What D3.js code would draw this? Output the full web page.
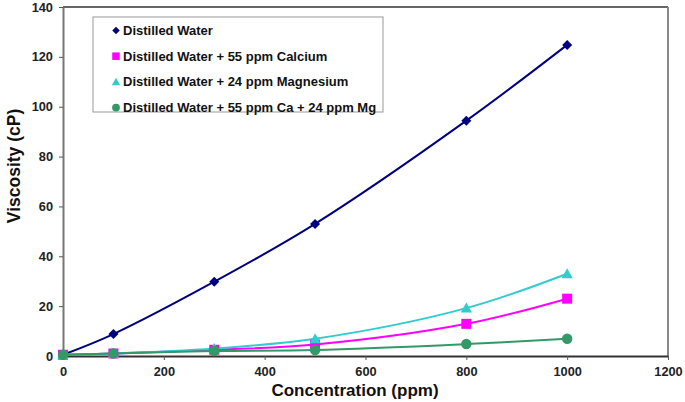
<!DOCTYPE html>
<html><head><meta charset="utf-8">
<script src="https://cdn.jsdelivr.net/npm/d3@7"></script>
<style>body{margin:0;background:#fff}svg{display:block}text{font-family:"Liberation Sans",Arial,sans-serif;font-weight:bold}</style>
</head><body><svg id="c" width="685" height="402"></svg>
<script>
const xs = [0, 100, 300, 500, 800, 1000];
const seriesNames = ["Distilled Water","Distilled Water + 55 ppm Calcium","Distilled Water + 24 ppm Magnesium","Distilled Water + 55 ppm Ca + 24 ppm Mg"];
const water = [0.5, 8.8, 29.8, 53, 94.4, 124.8];
const calcium = [0.5, 1, 2.5, 4.6, 12.9, 23];
const magnesium = [0.5, 1, 3, 6.9, 19.2, 33];
const caMg = [0.5, 1, 2, 2.4, 4.8, 6.9];
const xTicks = [0,200,400,600,800,1000,1200];
const yTicks = [0,20,40,60,80,100,120,140];
const colors = ["#000080","#FF00FF","#33CCCC","#339966"];

const svg = d3.select("#c");
const m = {l:63, r:668, t:7, b:356};
const x = d3.scaleLinear().domain([0,1200]).range([m.l,m.r]);
const y = d3.scaleLinear().domain([0,140]).range([m.b,m.t]);

// marker drawer
function marker(g, k, cx, cy, s) {
  const c = colors[k];
  if (k === 0) {
    const h = 5*s;
    g.append("path").attr("d",`M${cx},${cy-h}L${cx+h},${cy}L${cx},${cy+h}L${cx-h},${cy}Z`).attr("fill",c);
  } else if (k === 1) {
    const h = 5*s;
    g.append("rect").attr("x",cx-h).attr("y",cy-h).attr("width",2*h).attr("height",2*h).attr("fill",c);
  } else if (k === 2) {
    const h = 5.6*s;
    g.append("path").attr("d",`M${cx},${cy-h}L${cx+h},${cy+h*0.8}L${cx-h},${cy+h*0.8}Z`).attr("fill",c);
  } else {
    g.append("circle").attr("cx",cx).attr("cy",cy).attr("r",5.2*s).attr("fill",c);
  }
}

// frame
svg.append("line").attr("x1",m.l).attr("x2",m.r).attr("y1",m.t).attr("y2",m.t).attr("stroke","#333").attr("stroke-width",1.5);
svg.append("line").attr("x1",m.r).attr("x2",m.r).attr("y1",m.t).attr("y2",m.b).attr("stroke","#888").attr("stroke-width",2);

const xa = svg.append("g").attr("transform",`translate(0,${m.b})`)
  .call(d3.axisBottom(x).tickValues(xTicks).tickFormat(d3.format("d")).tickSize(4).tickPadding(7).tickSizeOuter(0));
const ya = svg.append("g").attr("transform",`translate(${m.l},0)`)
  .call(d3.axisLeft(y).tickValues(yTicks).tickFormat(d3.format("d")).tickSize(4).tickPadding(6).tickSizeOuter(0));
xa.select(".domain").attr("stroke","#333").attr("stroke-width",2);
ya.select(".domain").attr("stroke","#777").attr("stroke-width",2);
[xa,ya].forEach(a=>{
  a.selectAll(".tick line").attr("stroke","#555").attr("stroke-width",1);
  a.selectAll("text").attr("font-size",12.8).attr("fill","#222").attr("font-weight","bold")
   .attr("font-family","'Liberation Sans',Arial,sans-serif");
});

const data = [water, calcium, magnesium, caMg];
const line = d3.line().x((d,i)=>x(xs[i])).y(d=>y(d)).curve(d3.curveCatmullRom.alpha(0.5));
data.forEach((s,k)=>{
  svg.append("path").attr("d",line(s)).attr("fill","none").attr("stroke",colors[k]).attr("stroke-width",2);
});
data.forEach((s,k)=>{
  const g = svg.append("g");
  s.forEach((d,i)=>marker(g,k,x(xs[i]),y(d),1));
});

// legend
const lg = svg.append("g");
lg.append("rect").attr("x",93).attr("y",17).attr("width",290).attr("height",95)
  .attr("fill","#fff").attr("stroke","#999").attr("stroke-width",1);
seriesNames.forEach((n,k)=>{
  const yy = 30.5 + k*25.7;
  marker(lg,k,116,yy,0.75);
  lg.append("text").attr("x",123).attr("y",yy+4.5).attr("font-size",13).attr("fill","#111").text(n);
});

// titles
svg.append("text").attr("x",355).attr("y",396).attr("text-anchor","middle")
  .attr("font-size",17).attr("fill","#111").text("Concentration (ppm)");
svg.append("text").attr("transform",`translate(19.5,166) rotate(-90)`)
  .attr("text-anchor","middle").attr("font-size",17.5).attr("fill","#111").text("Viscosity (cP)");
</script></body></html>
